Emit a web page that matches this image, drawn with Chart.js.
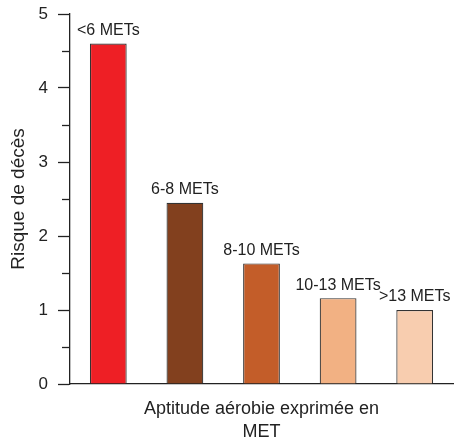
<!DOCTYPE html>
<html>
<head>
<meta charset="utf-8">
<script src="https://cdn.jsdelivr.net/npm/chart.js@4/dist/chart.umd.min.js"></script>
<style>
html,body{margin:0;padding:0;background:#fff;}
#wrap{width:454px;height:443px;}
</style>
</head>
<body>
<div id="wrap"><canvas id="c" width="454" height="443"></canvas></div>
<script>
const categories = ['<6 METs', '6-8 METs', '8-10 METs', '10-13 METs', '>13 METs'];
const riskValues = [4.6, 2.45, 1.63, 1.16, 1.0];
const barColors = ['#EE1F25', '#82401E', '#C35D29', '#F2B183', '#F8CDAF'];
const yTickValues = [0, 1, 2, 3, 4, 5];
const xTitle = ['Aptitude aérobie exprimée en', 'MET'];
const yTitle = 'Risque de décès';

const FONT = '"Liberation Sans", Arial, Helvetica, sans-serif';

const barLabelPlugin = {
  id: 'barLabels',
  afterDatasetsDraw(chart) {
    const ctx = chart.ctx;
    const meta = chart.getDatasetMeta(0);
    ctx.save();
    ctx.font = '16px ' + FONT;
    ctx.fillStyle = '#222';
    ctx.textAlign = 'center';
    ctx.textBaseline = 'bottom';
    meta.data.forEach((bar, i) => {
      ctx.fillText(chart.data.labels[i], bar.x, bar.y - 5);
    });
    ctx.restore();
  }
};

const minorTickPlugin = {
  id: 'minorTicks',
  afterDraw(chart) {
    const y = chart.scales.y;
    const ctx = chart.ctx;
    ctx.save();
    ctx.strokeStyle = '#222';
    ctx.lineWidth = 1.3;
    y.ticks.forEach(t => {
      if (!yTickValues.includes(t.value)) {
        const py = Math.round(y.getPixelForValue(t.value)) + 0.5;
        ctx.beginPath();
        ctx.moveTo(y.right - 8, py);
        ctx.lineTo(y.right, py);
        ctx.stroke();
      }
    });
    ctx.restore();
  }
};

new Chart(document.getElementById('c'), {
  type: 'bar',
  data: {
    labels: categories,
    datasets: [{
      data: riskValues,
      backgroundColor: barColors,
      borderColor: '#333',
      borderWidth: 1.2,
      barPercentage: 0.48,
      categoryPercentage: 1.0
    }]
  },
  options: {
    responsive: false,
    animation: false,
    devicePixelRatio: 1,
    layout: { padding: { top: 14, right: 1, bottom: 0, left: 0 } },
    plugins: { legend: { display: false }, tooltip: { enabled: false } },
    scales: {
      x: {
        type: 'category',
        grid: { display: false, drawTicks: false },
        border: { display: true, color: '#222', width: 1.3 },
        ticks: { display: false },
        title: {
          display: true,
          text: xTitle,
          color: '#222',
          font: { family: FONT, size: 18, lineHeight: 1.25 },
          padding: { top: 0, bottom: 0 }
        },
        afterFit(scale) { scale.height = 59; scale.paddingLeft = 0; scale.paddingRight = 0; }
      },
      y: {
        min: 0,
        max: 5,
        grid: {
          drawOnChartArea: false,
          drawTicks: true,
          tickLength: 12,
          tickWidth: 1.3,
          tickColor: (c) => (c.tick && yTickValues.includes(c.tick.value)) ? '#222' : 'rgba(0,0,0,0)'
        },
        border: { display: true, color: '#222', width: 1.3 },
        ticks: {
          stepSize: 0.5,
          padding: 10,
          color: '#222',
          font: { family: FONT, size: 17 },
          callback: (v) => yTickValues.includes(v) ? String(v) : ''
        },
        title: {
          display: true,
          text: yTitle,
          color: '#222',
          font: { family: FONT, size: 19, lineHeight: 1.2 },
          padding: { top: 7, bottom: 0 }
        },
        afterFit(scale) { scale.width = 70; scale.paddingTop = 0; scale.paddingBottom = 0; }
      }
    }
  },
  plugins: [barLabelPlugin, minorTickPlugin]
});
</script>
</body>
</html>
